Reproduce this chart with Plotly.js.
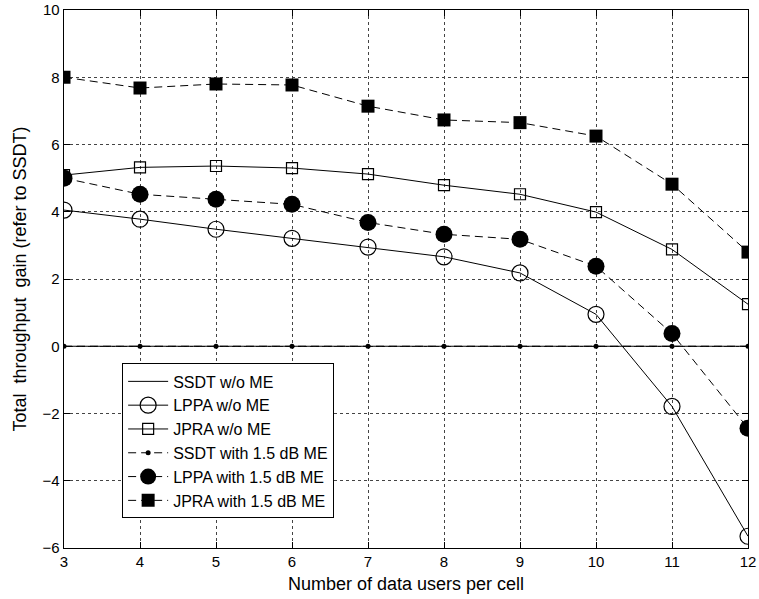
<!DOCTYPE html>
<html><head><meta charset="utf-8">
<script src="https://cdn.plot.ly/plotly-3.0.1.min.js"></script>
<style>html,body{margin:0;padding:0;background:#fff}</style>
</head><body><div id="chart" style="width:759px;height:599px"></div>
<script>
const users = [3,4,5,6,7,8,9,10,11,12];
const ssdtNoME = [0,0,0,0,0,0,0,0,0,0];
const lppaNoME = [4.05,3.78,3.48,3.21,2.95,2.66,2.18,0.95,-1.79,-5.65];
const jpraNoME = [5.09,5.32,5.36,5.30,5.12,4.79,4.52,3.99,2.88,1.25];
const ssdtME = [0,0,0,0,0,0,0,0,0,0];
const lppaME = [5.0,4.52,4.37,4.22,3.68,3.33,3.18,2.38,0.38,-2.44];
const jpraME = [8.0,7.68,7.8,7.77,7.14,6.73,6.65,6.25,4.82,2.80];
const names = ['SSDT w/o ME','LPPA w/o ME','JPRA w/o ME','SSDT with 1.5 dB ME','LPPA with 1.5 dB ME','JPRA with 1.5 dB ME'];
const xTicks = [3,4,5,6,7,8,9,10,11,12];
const yTicks = [-6,-4,-2,0,2,4,6,8,10];

const dashed = '8px,5px';
const traces = [
  {x:users,y:ssdtNoME,name:names[0],mode:'lines',line:{color:'black',width:1}},
  {x:users,y:lppaNoME,name:names[1],mode:'lines+markers',line:{color:'black',width:1},
   marker:{symbol:'circle-open',size:16,color:'black',line:{width:1.2,color:'black'}}},
  {x:users,y:jpraNoME,name:names[2],mode:'lines+markers',line:{color:'black',width:1},
   marker:{symbol:'square-open',size:11,color:'black',line:{width:1.2,color:'black'}}},
  {x:users,y:ssdtME,name:names[3],mode:'lines+markers',line:{color:'black',width:1,dash:dashed},
   marker:{symbol:'circle',size:5,color:'black'}},
  {x:users,y:lppaME,name:names[4],mode:'lines+markers',line:{color:'black',width:1,dash:dashed},
   marker:{symbol:'circle',size:17,color:'black'}},
  {x:users,y:jpraME,name:names[5],mode:'lines+markers',line:{color:'black',width:1,dash:dashed},
   marker:{symbol:'square',size:13,color:'black'}}
];
const fam = 'Liberation Sans, Arial, sans-serif';
const axisCommon = {
  showline:true, linecolor:'black', linewidth:1.3, mirror:'ticks',
  ticks:'inside', ticklen:6, tickcolor:'black', tickwidth:1,
  showgrid:true, gridcolor:'#444', griddash:'dot', gridwidth:1,
  zeroline:false, tickfont:{family:fam, size:15, color:'black'}
};
const layout = {
  width:759, height:599,
  margin:{l:64, r:11, t:10, b:51},
  paper_bgcolor:'white', plot_bgcolor:'white',
  font:{family:fam, color:'black'},
  showlegend:true,
  legend:{x:0.085, y:0.343, xanchor:'left', yanchor:'top', bordercolor:'black', borderwidth:1,
    bgcolor:'white', font:{size:16, family:fam}, tracegroupgap:0, itemwidth:40},
  xaxis:Object.assign({}, axisCommon, {range:[3,12], tickvals:xTicks, ticktext:xTicks.map(String),
    title:{text:'Number of data users per cell', font:{size:18}, standoff:8}}),
  yaxis:Object.assign({}, axisCommon, {range:[-6,10], tickvals:yTicks, ticktext:yTicks.map(v=>v<0?'\u2212'+(-v):String(v)),
    title:{text:'Total&nbsp; throughput&nbsp; gain (refer to SSDT)', font:{size:18}, standoff:11}})
};
Plotly.newPlot('chart', traces, layout, {displayModeBar:false, staticPlot:true});
</script></body></html>
